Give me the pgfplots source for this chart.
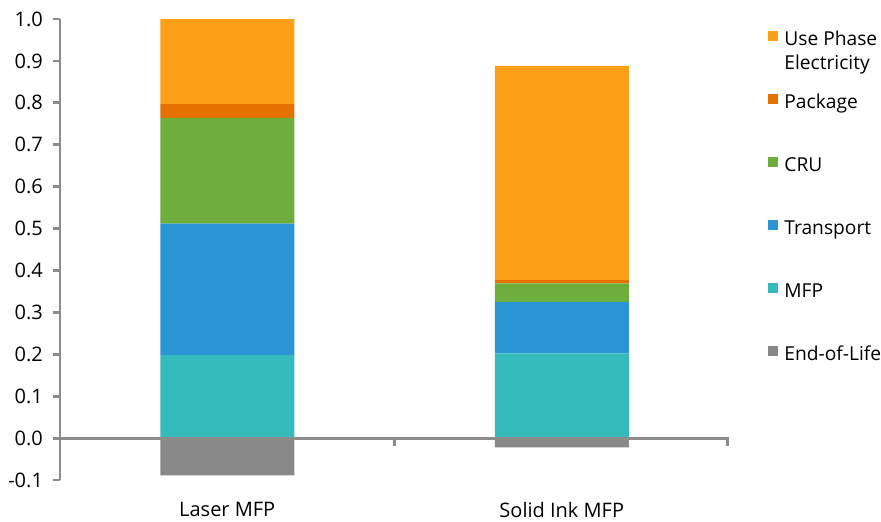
\documentclass[border=0pt]{standalone}
\usepackage{fontspec}
\setmainfont{Open Sans}
\usepackage{pgfplots}
\pgfplotsset{compat=1.18}
\definecolor{cuse}{HTML}{FC9E16}
\definecolor{cpack}{HTML}{E57200}
\definecolor{ccru}{HTML}{6DAE3D}
\definecolor{ctrans}{HTML}{2A95D5}
\definecolor{cmfp}{HTML}{35BBBB}
\definecolor{ceol}{HTML}{888888}
\definecolor{axgray}{HTML}{8C8C8C}
\begin{document}
\begin{tikzpicture}[font=\fontsize{10}{12}\selectfont]
\pgfplotsset{
  common/.style={
    scale only axis, width=334.5pt, height=230.5pt,
    xmin=-0.5, xmax=1.5, ymin=-0.1, ymax=1.0,
    bar width=67pt,
  }
}
\begin{axis}[name=ax, common,
  ybar stacked,
  axis y line=left, axis x line=bottom,
  y axis line style={-, draw=axgray, line width=1.4pt},
  x axis line style={draw=none},
  ytick={-0.1,0,0.1,0.2,0.3,0.4,0.5,0.6,0.7,0.8,0.9,1.0},
  yticklabel style={/pgf/number format/fixed, /pgf/number format/fixed zerofill, /pgf/number format/precision=1, /pgf/number format/assume math mode=true, xshift=-1.5pt, text=black},
  ytick style={draw=axgray, line width=1.4pt},
  major tick length=3.5pt, tick align=outside,
  xtick={0,1}, xticklabels={Laser MFP, Solid Ink MFP},
  xtick style={draw=none},
  xticklabel style={yshift=-4pt, text=black},
  legend style={at={(1,1)}, anchor=north west, xshift=19.5pt, yshift=-5pt,
    draw=none, fill=none, inner sep=0pt, row sep=21.5pt, column sep=3pt,
    font=\fontsize{9.6}{12}\selectfont,
    nodes={inner sep=0pt, text height=8pt, text depth=2pt, anchor=base west, text=black}},
  legend cell align=left,
  reverse legend,
  legend image code/.code={\fill[#1] (0pt,2pt) rectangle (5pt,7pt);},
]
\addlegendimage{fill=ceol, draw=none}
\addlegendentry{End-of-Life}
\addplot[fill=cmfp, draw=none] coordinates {(0,0.198) (1,0.202)};
\addlegendentry{MFP}
\addplot[fill=ctrans, draw=none] coordinates {(0,0.314) (1,0.123)};
\addlegendentry{Transport}
\addplot[fill=ccru, draw=none] coordinates {(0,0.252) (1,0.044)};
\addlegendentry{CRU}
\addplot[fill=cpack, draw=none] coordinates {(0,0.033) (1,0.008)};
\addlegendentry{Package}
\addplot[fill=cuse, draw=none] coordinates {(0,0.203) (1,0.511)};
\addlegendentry{\smash{\begin{tabular}[t]{@{}l@{}}Use Phase\\[0pt]Electricity\end{tabular}}}
\end{axis}
\begin{axis}[common, ybar, axis lines=none, ticks=none]
\addplot[fill=ceol, draw=none] coordinates {(0,-0.089) (1,-0.022)};
\draw[axgray, line width=1.4pt] (axis cs:-0.5,0) -- (axis cs:1.5,0);
\draw[axgray, line width=1.4pt] (axis cs:0.5,0) -- ([yshift=-4pt]axis cs:0.5,0);
\draw[axgray, line width=1.4pt] ([xshift=-0.7pt]axis cs:1.5,0) -- ([xshift=-0.7pt,yshift=-4pt]axis cs:1.5,0);
\end{axis}
\pgfresetboundingbox
\path ([shift={(-30pt,-20.5pt)}]ax.south west) rectangle ([shift={(410.5pt,240pt)}]ax.south west);
\end{tikzpicture}
\end{document}
